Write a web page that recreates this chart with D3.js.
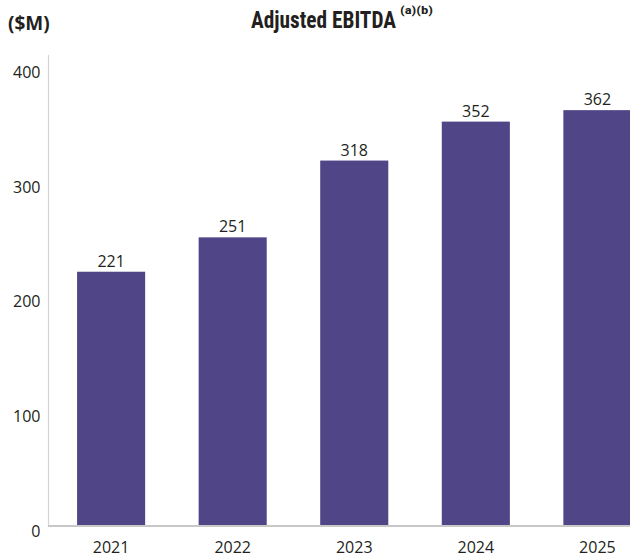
<!DOCTYPE html>
<html>
<head>
<meta charset="utf-8">
<script src="https://cdn.jsdelivr.net/npm/d3@7"></script>
<style>
  html, body { margin: 0; padding: 0; background: #ffffff; }
  svg { display: block; }
</style>
</head>
<body>
<svg id="chart" width="630" height="556"></svg>
<script>
const years = ["2021", "2022", "2023", "2024", "2025"];
const ebitda = [221, 251, 318, 352, 362];
const yTicks = [0, 100, 200, 300, 400];
const titleText = "Adjusted EBITDA";
const titleSup = "(a)(b)";
const unitLabel = "($M)";

const svg = d3.select("#chart");
const W = 630, H = 556;
const axisX = 48.5;
const textColor = "#231f20";
const barColor = "#4f4587";

const x = d3.scaleBand().domain(years).range([axisX, 660]).paddingInner(0.44).paddingOuter(0.235);
const y = d3.scaleLinear().domain([0, 400]).range([525, 66.6]);

// bars
svg.append("g").selectAll("rect")
  .data(years.map((d, i) => ({ year: d, value: ebitda[i] })))
  .join("rect")
  .attr("x", d => x(d.year))
  .attr("y", d => y(d.value))
  .attr("width", x.bandwidth())
  .attr("height", d => y(0) - y(d.value))
  .attr("fill", barColor);

// value labels
svg.append("g").selectAll("text")
  .data(years.map((d, i) => ({ year: d, value: ebitda[i] })))
  .join("text")
  .attr("x", d => x(d.year) + x.bandwidth() / 2)
  .attr("y", d => y(d.value) - 5)
  .attr("text-anchor", "middle")
  .attr("font-family", "'Open Sans', sans-serif")
  .attr("font-size", 16)
  .attr("fill", textColor)
  .text(d => d.value);

// y axis (line + labels)
const yAxis = d3.axisLeft(y).tickValues(yTicks).tickSize(0).tickPadding(8);
const gy = svg.append("g").attr("transform", `translate(${axisX},0)`).call(yAxis);
gy.select(".domain").remove();
gy.selectAll("text")
  .attr("font-family", "'Open Sans', sans-serif")
  .attr("font-size", 16)
  .attr("fill", textColor)
  .attr("dy", null)
  .attr("dominant-baseline", "alphabetic")
  .attr("transform", "translate(0,11)");

svg.append("line")
  .attr("x1", axisX).attr("x2", axisX)
  .attr("y1", 55).attr("y2", 526)
  .attr("stroke", "#d4d4d4").attr("stroke-width", 1.2);

// x axis baseline + labels
svg.append("line")
  .attr("x1", axisX - 0.5).attr("x2", W)
  .attr("y1", 526).attr("y2", 526)
  .attr("stroke", "#c8c8c8").attr("stroke-width", 2);

const xAxis = d3.axisBottom(x).tickSize(0).tickPadding(0);
const gx = svg.append("g").call(xAxis);
gx.select(".domain").remove();
gx.selectAll("text")
  .attr("font-family", "'Open Sans', sans-serif")
  .attr("font-size", 16)
  .attr("fill", textColor)
  .attr("dy", null)
  .attr("y", 553);

// unit label
svg.append("text")
  .attr("x", 8).attr("y", 30)
  .attr("font-family", "'Open Sans', sans-serif")
  .attr("font-weight", 700)
  .attr("font-size", 19)
  .attr("fill", textColor)
  .text(unitLabel);

// title with superscript in one text element
const title = svg.append("text")
  .attr("x", 251).attr("y", 28)
  .attr("font-family", "'Liberation Sans Narrow', 'Roboto Condensed', 'Liberation Sans', sans-serif")
  .attr("font-stretch", "condensed")
  .attr("font-weight", 700)
  .attr("fill", textColor);

title.append("tspan")
  .attr("font-size", 24)
  .attr("textLength", 145)
  .attr("lengthAdjust", "spacingAndGlyphs")
  .text(titleText);

title.append("tspan")
  .attr("x", 400)
  .attr("dy", -14)
  .attr("font-size", 11)
  .attr("textLength", 33)
  .attr("lengthAdjust", "spacingAndGlyphs")
  .text(titleSup);
</script>
</body>
</html>
